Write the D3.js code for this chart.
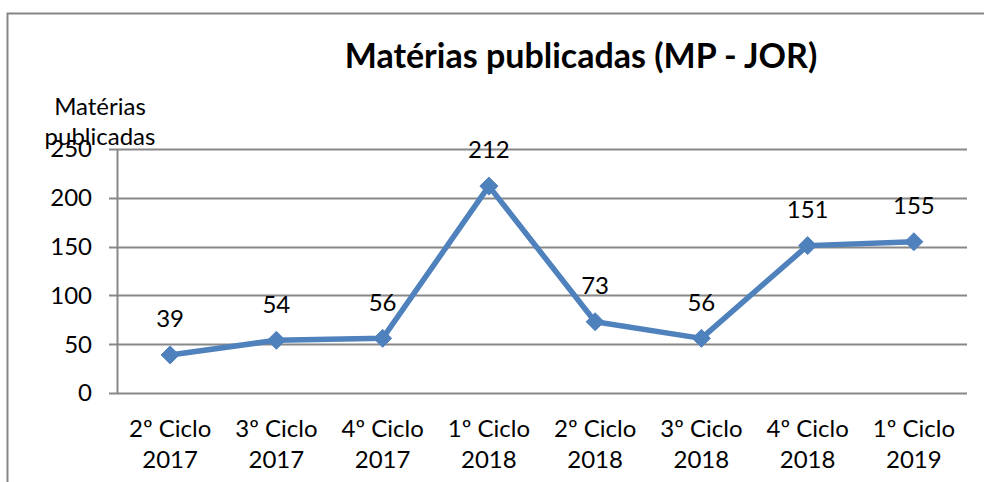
<!DOCTYPE html>
<html>
<head>
<meta charset="utf-8">
<script src="https://cdn.jsdelivr.net/npm/d3@7"></script>
<style>
  html, body { margin: 0; padding: 0; background: #fff; }
  svg { display: block; }
  text { font-family: Lato, "Open Sans", sans-serif; fill: #000; }
</style>
</head>
<body>
<svg id="chart" width="984" height="482"></svg>
<script>
// Matérias publicadas por ciclo
const categories = [
  ["2º Ciclo", "2017"], ["3º Ciclo", "2017"], ["4º Ciclo", "2017"], ["1º Ciclo", "2018"],
  ["2º Ciclo", "2018"], ["3º Ciclo", "2018"], ["4º Ciclo", "2018"], ["1º Ciclo", "2019"]
];
const values = [39, 54, 56, 212, 73, 56, 151, 155];
const yTicks = [0, 50, 100, 150, 200, 250];
const title = "Matérias publicadas (MP - JOR)";
const yTitle = ["Matérias", "publicadas"];

const svg = d3.select("#chart");
const W = 984, H = 482;
const plot = { left: 117, right: 967, top: 149, bottom: 393 };
const FS = 24;

// chart frame (top and left edges visible)
svg.append("path")
  .attr("d", `M7.5,${H} V13.5 H${W}`)
  .attr("fill", "none").attr("stroke", "#868686").attr("stroke-width", 2);

const x = d3.scaleBand().domain(d3.range(categories.length))
  .range([plot.left, plot.right]);
const y = d3.scaleLinear().domain([0, 250]).range([plot.bottom, plot.top]);

// gridlines
svg.append("g").selectAll("line").data(yTicks).join("line")
  .attr("x1", plot.left - 8).attr("x2", plot.right)
  .attr("y1", d => Math.round(y(d)) + 0.5).attr("y2", d => Math.round(y(d)) + 0.5)
  .attr("stroke", "#888").attr("stroke-width", 2);

// y axis line
svg.append("line")
  .attr("x1", plot.left + 0.5).attr("x2", plot.left + 0.5)
  .attr("y1", plot.top).attr("y2", plot.bottom + 1)
  .attr("stroke", "#888").attr("stroke-width", 2);

// y tick labels
svg.append("g").selectAll("text").data(yTicks).join("text")
  .attr("x", plot.left - 25).attr("y", d => y(d))
  .attr("dy", "0.35em").attr("text-anchor", "end")
  .attr("font-size", FS).text(d => d);

// x tick labels
const xl = svg.append("g").selectAll("text").data(categories).join("text")
  .attr("text-anchor", "middle").attr("font-size", FS);
xl.append("tspan")
  .attr("x", (d, i) => x(i) + x.bandwidth() / 2).attr("y", 437).text(d => d[0]);
xl.append("tspan")
  .attr("x", (d, i) => x(i) + x.bandwidth() / 2).attr("y", 468).text(d => d[1]);

// series line
const cx = i => x(i) + x.bandwidth() / 2;
svg.append("path")
  .datum(values)
  .attr("d", d3.line().x((d, i) => cx(i)).y(d => y(d)))
  .attr("fill", "none").attr("stroke", "#4F81BD")
  .attr("stroke-width", 5.5).attr("stroke-linejoin", "round");

// diamond markers
const r = 9;
svg.append("g").selectAll("path").data(values).join("path")
  .attr("d", (d, i) => `M${cx(i)},${y(d) - r} L${cx(i) + r},${y(d)} L${cx(i)},${y(d) + r} L${cx(i) - r},${y(d)} Z`)
  .attr("fill", "#4F81BD").attr("stroke", "#4F81BD").attr("stroke-width", 1);

// data labels
svg.append("g").selectAll("text").data(values).join("text")
  .attr("x", (d, i) => cx(i)).attr("y", d => y(d) - 36)
  .attr("dy", "0.35em").attr("text-anchor", "middle")
  .attr("font-size", FS).text(d => d);

// title
svg.append("text")
  .attr("x", 581).attr("y", 68).attr("text-anchor", "middle")
  .attr("font-size", 34).attr("font-weight", "bold").text(title);

// y axis title
svg.append("text").attr("x", 100).attr("y", 115).attr("text-anchor", "middle")
  .attr("font-size", FS).text(yTitle[0]);
svg.append("text").attr("x", 100).attr("y", 145).attr("text-anchor", "middle")
  .attr("font-size", FS).text(yTitle[1]);
</script>
</body>
</html>
